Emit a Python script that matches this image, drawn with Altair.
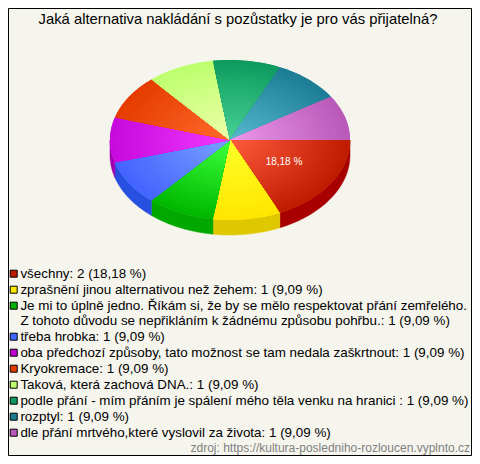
import math
import altair as alt

TITLE = "Jaká alternativa nakládání s pozůstatky je pro vás přijatelná?"
SOURCE = "zdroj: https://kultura-posledniho-rozloucen.vyplnto.cz"
LABELS = [
    "všechny: 2 (18,18 %)",
    "zprašnění jinou alternativou než žehem: 1 (9,09 %)",
    "Je mi to úplně jedno. Říkám si, že by se mělo respektovat přání zemřelého.\nZ tohoto důvodu se nepřikláním k žádnému způsobu pohřbu.: 1 (9,09 %)",
    "třeba hrobka: 1 (9,09 %)",
    "oba předchozí způsoby, tato možnost se tam nedala zaškrtnout: 1 (9,09 %)",
    "Kryokremace: 1 (9,09 %)",
    "Taková, která zachová DNA.: 1 (9,09 %)",
    "podle přání - mím přáním je spálení mého těla venku na hranici : 1 (9,09 %)",
    "rozptyl: 1 (9,09 %)",
    "dle přání mrtvého,které vyslovil za života: 1 (9,09 %)",
]
VALUES = [2, 1, 1, 1, 1, 1, 1, 1, 1, 1]
LEGEND_COLORS = ["#c01c00", "#ffe800", "#00b400", "#4068ff", "#c000d0",
                 "#e03c00", "#c0ff70", "#109860", "#1c7c90", "#b858b8"]
INNER = ["#ff5a3c", "#ffff28", "#3cff3c", "#78a0ff", "#f038ff",
         "#ff6a2c", "#ecffaa", "#48d096", "#55b9cd", "#eb96eb"]
OUTER = ["#c01c00", "#ffe600", "#00b800", "#4464ff", "#c80ade",
         "#e63c00", "#beff6e", "#0f9b5f", "#1e7d96", "#b95ab9"]
SIDE = ["#a80000", "#e0c800", "#00a800", "#2850e0", "#a000b0",
        "#c03000", "#a0d060", "#087848", "#106070", "#904090"]

W, H = 464, 448
OFF = 8
CX, CY, RX, RY, DEPTH = 230, 140, 120, 80, 15
RINGS = 28


def mix(a, b, f):
    ca = [int(a[i:i + 2], 16) for i in (1, 3, 5)]
    cb = [int(b[i:i + 2], 16) for i in (1, 3, 5)]
    return "#%02x%02x%02x" % tuple(round(x + (y - x) * f) for x, y in zip(ca, cb))


def arc(a0, a1, k=1.0, dy=0.0):
    n = max(2, int(abs(a1 - a0) / 0.03))
    return [[k * RX * math.cos(a0 + (a1 - a0) * i / n),
             k * RY * math.sin(a0 + (a1 - a0) * i / n) + dy] for i in range(n + 1)]


def feat(ring, **props):
    return {"type": "Feature", "properties": props,
            "geometry": {"type": "Polygon", "coordinates": [ring + [ring[0]]]}}


total = sum(VALUES)
angles = [0.0]
for v in VALUES:
    angles.append(angles[-1] + 2 * math.pi * v / total)

base, sides, rings = [], [], []
for i, lab in enumerate(LABELS):
    a0, a1 = angles[i], angles[i + 1]
    base.append(feat([[0, 0]] + arc(a0, a1), label=lab))
    s0, s1 = max(a0, 0.0), min(a1, math.pi)
    if s0 < s1:
        sides.append(feat(arc(s0, s1) + arc(s1, s0, dy=DEPTH), c=SIDE[i]))
    for r in range(RINGS):
        k = 1 - r / RINGS
        rings.append(feat([[0, 0]] + arc(a0, a1, k), c=mix(OUTER[i], INNER[i], r / (RINGS - 1))))

proj = alt.Projection(type="identity", scale=1, translate=[CX - OFF, CY - OFF])

side_layer = alt.Chart(alt.Data(values=sides)).mark_geoshape(strokeWidth=0.5).encode(
    fill=alt.Fill("properties.c:N", scale=None),
    stroke=alt.Stroke("properties.c:N", scale=None),
).project(**proj.to_dict())

base_layer = alt.Chart(alt.Data(values=base)).mark_geoshape(strokeWidth=0).encode(
    color=alt.Color(
        "properties.label:N",
        scale=alt.Scale(domain=LABELS, range=LEGEND_COLORS),
        legend=alt.Legend(
            title=None, orient="none", legendX=-1, legendY=267 - OFF,
            symbolType="square", symbolSize=49, symbolStrokeColor="#000000",
            symbolStrokeWidth=1, symbolOpacity=1,
            labelFont="Liberation Sans", labelFontSize=13.4, labelColor="#000000",
            labelLimit=470, labelOffset=0, rowPadding=1,
            labelExpr="split(datum.label, '\\n')", values=LABELS,
        ),
    ),
).project(**proj.to_dict())

ring_layer = alt.Chart(alt.Data(values=rings)).mark_geoshape(strokeWidth=0).encode(
    fill=alt.Fill("properties.c:N", scale=None),
).project(**proj.to_dict())


def text(s, x, y, size, color, align="center"):
    return alt.Chart(alt.Data(values=[{"t": s}])).mark_text(
        font="Liberation Sans", fontSize=size, color=color, align=align, baseline="middle"
    ).encode(text="t:N", x=alt.value(x - OFF), y=alt.value(y - OFF))


frame = alt.Chart(alt.Data(values=[{}])).mark_rect(
    fill="transparent", stroke="#000000", strokeWidth=1
).encode(x=alt.value(0.5), x2=alt.value(W - 0.5), y=alt.value(0.5), y2=alt.value(H - 0.5))

chart = alt.layer(
    frame, side_layer, base_layer, ring_layer,
    text(TITLE, 238, 20, 14.8, "#000000"),
    text("18,18 %", 284, 162, 10, "#ffffff"),
    text(SOURCE, 470, 448, 12, "#808080", "right"),
).properties(
    width=W, height=H, padding=0,
    autosize=alt.AutoSizeParams(type="none"),
    background="#f5f5ee",
).configure_view(stroke=None)

chart.save("out.html", embed_options={"renderer": "svg", "actions": False})
